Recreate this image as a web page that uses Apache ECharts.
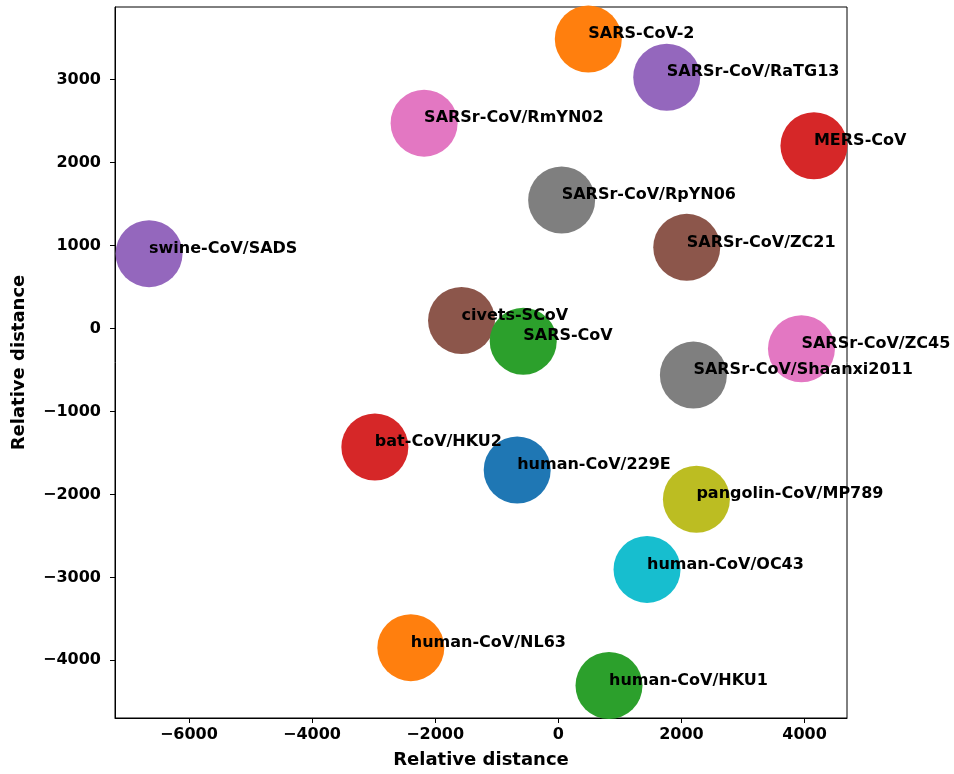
<!DOCTYPE html>
<html>
<head>
<meta charset="utf-8">
<script src="https://cdn.jsdelivr.net/npm/echarts@6/dist/echarts.min.js"></script>
<style>
html,body{margin:0;padding:0;background:#fff;}
#chart{width:954px;height:774px;}
</style>
</head>
<body>
<div id="chart"></div>
<script>
var names = ['SARS-CoV-2','SARSr-CoV/RaTG13','SARSr-CoV/RmYN02','MERS-CoV','SARSr-CoV/RpYN06','swine-CoV/SADS','SARSr-CoV/ZC21','civets-SCoV','SARS-CoV','SARSr-CoV/ZC45','SARSr-CoV/Shaanxi2011','bat-CoV/HKU2','human-CoV/229E','pangolin-CoV/MP789','human-CoV/OC43','human-CoV/NL63','human-CoV/HKU1'];
var xValues = [488, 1762, -2179, 4153, 55, -6647, 2087, -1571, -569, 3950, 2195, -2979, -667, 2244, 1442, -2395, 824];
var yValues = [3490, 3029, 2475, 2202, 1549, 902, 978, 96, -153, -244, -562, -1428, -1705, -2058, -2904, -3847, -4304];
var xTicks = [-6000, -4000, -2000, 0, 2000, 4000];
var yTicks = [-4000, -3000, -2000, -1000, 0, 1000, 2000, 3000];
var pointColors = ['#ff7f0e','#9467bd','#e377c2','#d62728','#7f7f7f','#9467bd','#8c564b','#8c564b','#2ca02c','#e377c2','#7f7f7f','#d62728','#1f77b4','#bcbd22','#17becf','#ff7f0e','#2ca02c'];

var FONT = '"DejaVu Sans", sans-serif';
var data = names.map(function (n, i) {
  return { name: n, value: [xValues[i], yValues[i]], itemStyle: { color: pointColors[i] } };
});

var chart = echarts.init(document.getElementById('chart'), null, { renderer: 'canvas' });
chart.setOption({
  animation: false,
  backgroundColor: '#fff',
  grid: { left: 115, right: 107, top: 7, bottom: 55, show: true, borderColor: '#000', borderWidth: 1, backgroundColor: 'transparent' },
  xAxis: {
    type: 'value', min: -7200, max: 4690,
    name: 'Relative distance', nameLocation: 'middle', nameGap: 33,
    nameTextStyle: { fontFamily: FONT, fontWeight: 'bold', fontSize: 18, color: '#000' },
    axisLine: { show: true, onZero: false, lineStyle: { color: '#000', width: 1 } },
    axisTick: { show: true, length: 5, customValues: xTicks, lineStyle: { color: '#000', width: 1 } },
    axisLabel: { customValues: xTicks, margin: 9, fontFamily: FONT, fontWeight: 'bold', fontSize: 16, color: '#000',
      formatter: function (v) { return v < 0 ? '\u2212' + Math.abs(v) : String(v); } },
    splitLine: { show: false }
  },
  yAxis: {
    type: 'value', min: -4695, max: 3875,
    name: 'Relative distance', nameLocation: 'middle', nameGap: 87, nameRotate: 90,
    nameTextStyle: { fontFamily: FONT, fontWeight: 'bold', fontSize: 18, color: '#000' },
    axisLine: { show: true, onZero: false, lineStyle: { color: '#000', width: 1 } },
    axisTick: { show: true, length: 5, customValues: yTicks, lineStyle: { color: '#000', width: 1 } },
    axisLabel: { customValues: yTicks, margin: 14, fontFamily: FONT, fontWeight: 'bold', fontSize: 16, color: '#000',
      formatter: function (v) { return v < 0 ? '\u2212' + Math.abs(v) : String(v); } },
    splitLine: { show: false }
  },
  series: [{
    type: 'scatter',
    symbol: 'circle',
    symbolSize: 67,
    clip: false,
    data: data,
    itemStyle: { opacity: 1 },
    emphasis: { disabled: true },
    label: {
      show: true,
      position: ['50%', '50%'],
      align: 'left',
      verticalAlign: 'middle',
      offset: [0, -5],
      formatter: '{b}',
      fontFamily: FONT, fontWeight: 'bold', fontSize: 16, color: '#000'
    },
    z: 2
  }]
});
</script>
</body>
</html>
